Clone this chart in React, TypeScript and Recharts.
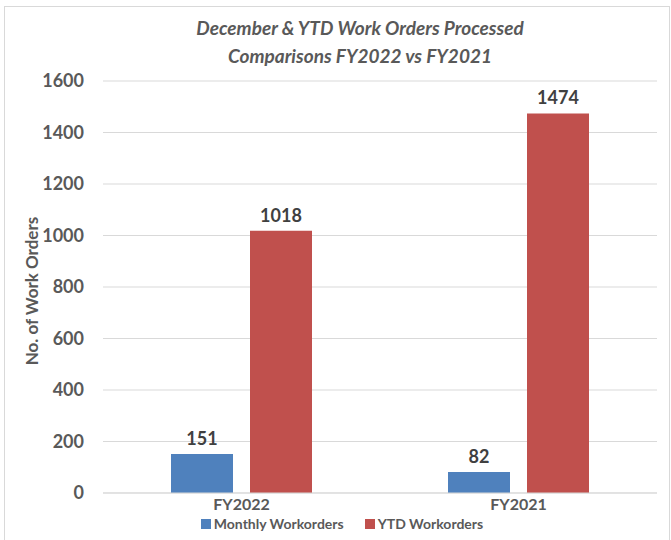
import { BarChart, Bar, XAxis, YAxis, CartesianGrid, LabelList } from 'recharts';

const categories = ['FY2022', 'FY2021'];
const monthlyWorkorders = [151, 82];
const ytdWorkorders = [1018, 1474];
const yTicks = [0, 200, 400, 600, 800, 1000, 1200, 1400, 1600];

const series = [
  { key: 'monthly', name: 'Monthly Workorders', color: '#4F81BD' },
  { key: 'ytd', name: 'YTD Workorders', color: '#C0504D' },
];

const data = categories.map((c, i) => ({
  name: c,
  monthly: monthlyWorkorders[i],
  ytd: ytdWorkorders[i],
}));

const font = 'Lato, "Open Sans", sans-serif';
const textColor = '#595959';

export default function App() {
  return (
    <div style={{ position: 'absolute', left: 0, top: 0, width: 671, height: 540, overflow: 'hidden', background: '#fff', fontFamily: font }}>
      <div style={{ position: 'absolute', left: 4, top: 6, width: 666, height: 540, border: '1px solid #d9d9d9', boxSizing: 'border-box' }} />
      <div style={{ position: 'absolute', left: 0, top: 14, width: 720, textAlign: 'center', fontSize: 19, fontWeight: 700, fontStyle: 'italic', color: textColor, lineHeight: '28px' }}>
        December &amp; YTD Work Orders Processed
        <br />
        Comparisons FY2022 vs FY2021
      </div>
      <BarChart
        width={671}
        height={540}
        data={data}
        margin={{ top: 81, right: 14, bottom: 17, left: 0 }}
        barGap={17}
        barCategoryGap={68}
        style={{ position: 'absolute', left: 0, top: 0 }}
      >
        <CartesianGrid vertical={false} stroke="#d9d9d9" />
        <XAxis
          dataKey="name"
          height={30}
          axisLine={{ stroke: '#d9d9d9' }}
          tickLine={false}
          tickSize={0}
          tickMargin={6}
          tick={{ fill: textColor, fontSize: 16, fontWeight: 700, fontFamily: font }}
        />
        <YAxis
          width={103}
          domain={[0, 1600]}
          ticks={yTicks}
          axisLine={false}
          tickLine={false}
          tickSize={0}
          tickMargin={19}
          tick={{ fill: textColor, fontSize: 18, fontWeight: 700, fontFamily: font }}
          label={{
            value: 'No. of Work Orders',
            angle: -90,
            position: 'insideLeft',
            dx: 27,
            dy: 4,
            fill: textColor,
            fontSize: 17,
            fontWeight: 700,
            fontFamily: font,
            style: { textAnchor: 'middle' },
          }}
        />
        {series.map((s) => (
          <Bar key={s.key} dataKey={s.key} name={s.name} fill={s.color} isAnimationActive={false}>
            <LabelList dataKey={s.key} position="top" offset={9} fill="#404040" fontSize={18} fontWeight={700} fontFamily={font} />
          </Bar>
        ))}
      </BarChart>
      <div style={{ position: 'absolute', left: 0, top: 516, width: 684, display: 'flex', justifyContent: 'center', gap: 21, fontSize: 14, fontWeight: 700, color: textColor, lineHeight: '16px' }}>
        {series.map((s) => (
          <div key={s.key} style={{ display: 'flex', alignItems: 'center', gap: 3 }}>
            <span style={{ display: 'inline-block', width: 10, height: 10, background: s.color }} />
            <span>{s.name}</span>
          </div>
        ))}
      </div>
    </div>
  );
}
